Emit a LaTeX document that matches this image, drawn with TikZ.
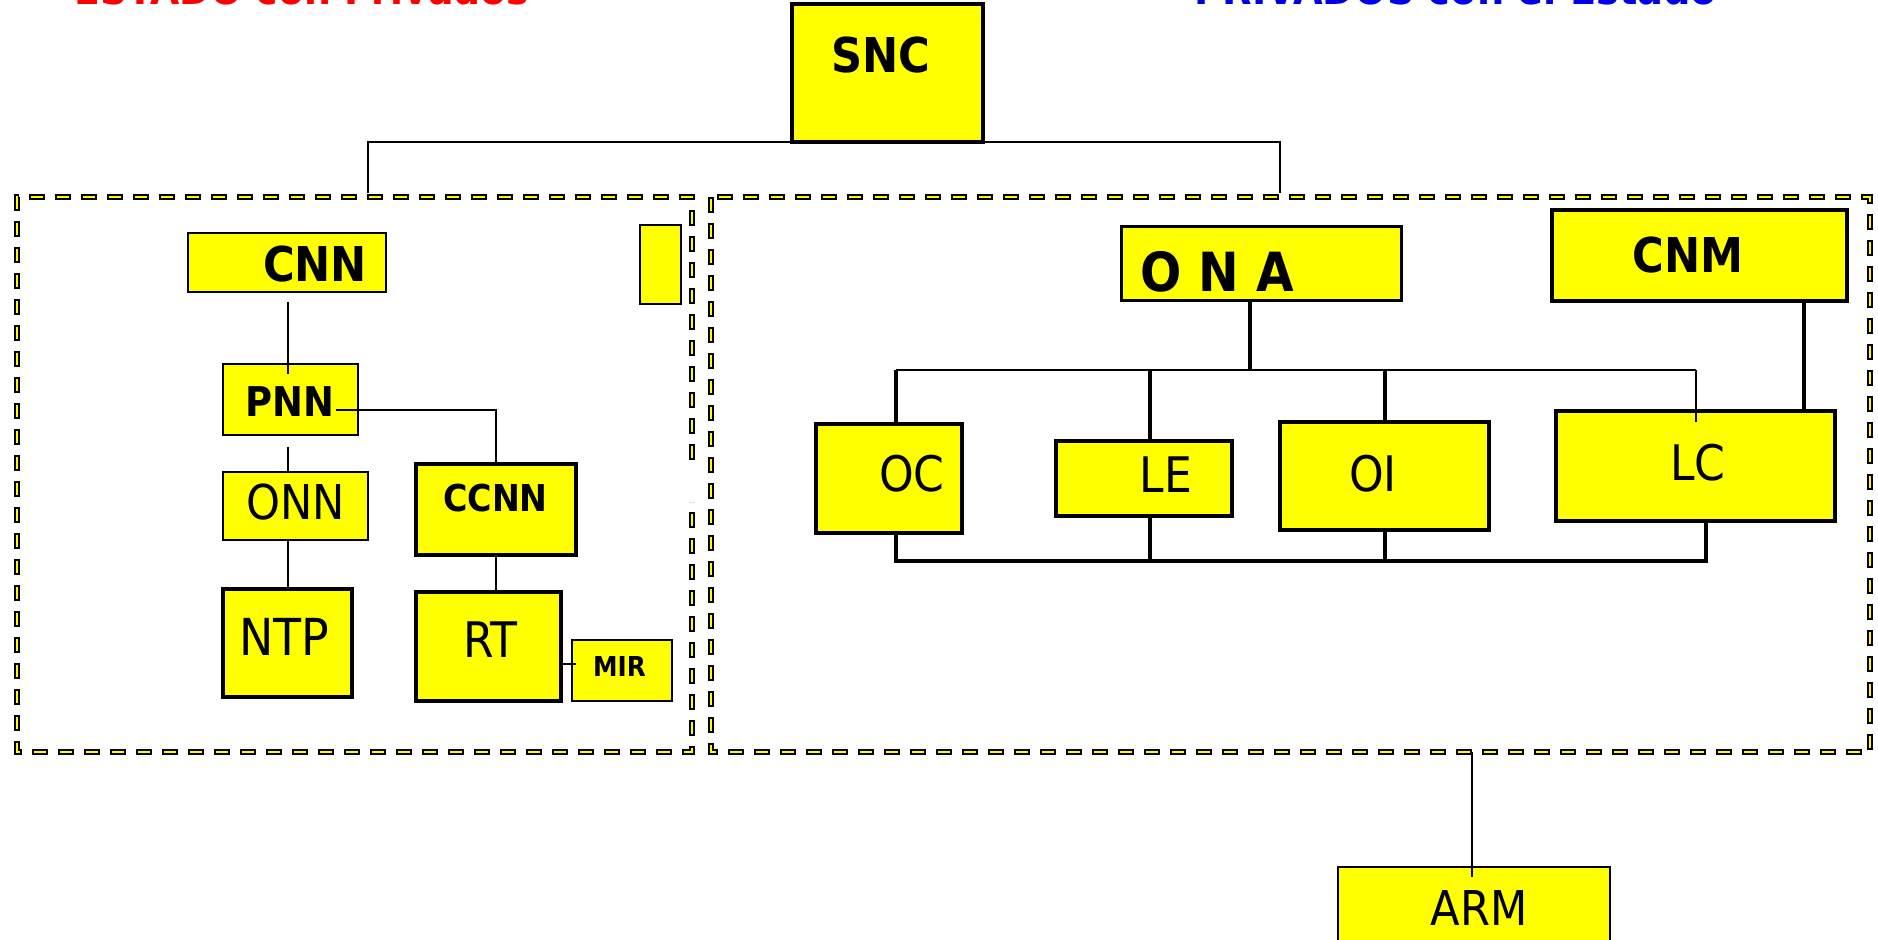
\documentclass[tikz,border=0pt]{standalone}
\usepackage{fontspec}
\setmainfont{DejaVu Sans Condensed}
\usetikzlibrary{calc}
\definecolor{boxyellow}{RGB}{255,255,0}
\definecolor{titlered}{RGB}{255,0,0}
\definecolor{titleblue}{RGB}{0,0,230}
\begin{document}
\begin{tikzpicture}[x=0.5pt,y=-0.5pt,
  sz/.style 2 args={minimum width=#1*0.5pt, minimum height=#2*0.5pt},
  box/.style={draw=black, fill=boxyellow, line width=1pt, inner sep=0pt, outer sep=0pt},
  thickbox/.style={box, line width=2pt},
  lbl/.style={inner sep=0pt, font=\fontsize{#1}{#1}\selectfont},
  lbl/.default=24pt,
  blbl/.style={inner sep=0pt, font=\bfseries\fontsize{#1}{#1}\selectfont},
  blbl/.default=24pt,
  conn/.style={line width=1pt},
  tconn/.style={line width=1.75pt},
  framek/.style={draw=black, line width=3pt, dash pattern=on 8pt off 5pt},
  framey/.style={draw=boxyellow, line width=1.1pt, dash pattern=on 6.2pt off 6.8pt, dash phase=12.1pt},
  title/.style={anchor=base west, inner sep=0pt, font=\bfseries\fontsize{21pt}{24pt}\selectfont}]
\useasboundingbox (0,0) rectangle (1878,940);
\fill[white] (0,0) rectangle (1878,940);

% titles (cut by the top edge, as in the reference)
\node[title, text=titlered] (t1) at (74,5) {ESTADO con Privados};
\node[title, text=titleblue, font=\bfseries\fontsize{21.3pt}{24pt}\selectfont] (t2) at (1194,5) {PRIVADOS con el Estado};

% frames
\coordinate (lfa) at (692,460);
\coordinate (lfb) at (692,502);
\coordinate (rf1) at (711,197);
\coordinate (rf2) at (1870,752);
\foreach \s in {framek,framey}{
  \draw[\s] (lfa) -- (692,197) -- (17,197) -- (17,752) -- (692,752) -- (lfb);
  \draw[\s] (rf1) rectangle (rf2);
}

% boxes
\node[thickbox, sz={191}{138}] (snc) at (887.5,73) {};
\node[box, sz={41}{79}] (blank) at (660.5,264.5) {};
\node[box, sz={198}{59}] (cnn) at (287,262.5) {};
\node[box, sz={135}{71}] (pnn) at (290.5,399.5) {};
\node[box, sz={145}{68}] (onn) at (295.5,506) {};
\node[thickbox, sz={129}{108}] (ntp) at (287.5,643) {};
\node[thickbox, sz={160}{91}] (ccnn) at (496,509.5) {};
\node[thickbox, sz={145}{109}] (rt) at (488.5,646.5) {};
\node[box, sz={100}{61}] (mir) at (622,670.5) {};

\node[box, line width=1.5pt, sz={280}{74}] (ona) at (1261,264) {};
\node[thickbox, sz={295}{91}] (cnm) at (1699.5,255.5) {};
\node[thickbox, sz={146}{109}] (oc) at (889,478.5) {};
\node[thickbox, sz={176}{75}] (le) at (1144,478.5) {};
\node[thickbox, sz={209}{108}] (oi) at (1384.5,476) {};
\node[thickbox, sz={279}{110}] (lc) at (1695.5,466) {};
\node[box, sz={272}{130}] (arm) at (1474,932) {};

% connectors, left
\coordinate (ltop) at (368,193);
\coordinate (rtop) at (1280,193);
\draw[conn] (ltop) |- (snc.south) -| (rtop);
\draw[conn] ($(cnn.south)+(1,10)$) -- ($(pnn.north)+(-2.5,10)$);
\draw[conn] ($(pnn.east)+(-22,10.5)$) -| (ccnn.north);
\draw[conn] ($(pnn.south)+(-2.5,12)$) -- ($(onn.north)+(-7.5,0)$);
\draw[conn] ($(onn.south)+(-7.5,0)$) -- ($(ntp.north)+(0.5,0)$);
\draw[conn] (ccnn.south) -- (ccnn.south |- rt.north);
\draw[conn] ($(rt.east)+(0,17.5)$) -- ($(mir.west)+(4,-6.5)$);

% connectors, right
\coordinate (onaj) at (1250,370);
\coordinate (hl) at (896,370);
\coordinate (hle) at (1150,370);
\coordinate (hoi) at (1385,370);
\coordinate (hr) at (1696,370);
\coordinate (hrin) at (1696,422);
\coordinate (bl) at (896,561);
\coordinate (ble) at (1150,561);
\coordinate (boi) at (1385,561);
\coordinate (br) at (1706,561);
\coordinate (cnmst) at (1804,299);
\coordinate (fb) at (1472,752);
\draw[tconn] (ona.south -| onaj) -- (onaj);
\draw[conn] (hl) -- (hr);
\draw[tconn] (hl) -- (oc.north -| hl);
\draw[tconn] (hle) -- (le.north -| hle);
\draw[tconn] (hoi) -- (oi.north -| hoi);
\draw[conn] (hr) -- (hrin);
\draw[tconn] (cnmst) -- (lc.north -| cnmst);
\draw[line width=2pt] (oc.south -| bl) -- (bl) -- (br) -- (lc.south -| br);
\draw[tconn] (le.south -| ble) -- (ble);
\draw[tconn] (oi.south -| boi) -- (boi);
\draw[conn] (fb) -- ($(arm.north)+(-2,10)$);

% labels
\node[blbl] (snct) at (881,55.5) {SNC};
\node[blbl] (cnnt) at (315,264.5) {CNN};
\node[blbl=20.5pt] (pnnt) at (290,402) {PNN};
\node[lbl] (onnt) at (295.5,502.5) {ONN};
\node[lbl=25.5pt] (ntpt) at (284,636.5) {NTP};
\node[blbl=18.5pt] (ccnnt) at (495.5,498.5) {CCNN};
\node[lbl=24.5pt] (rtt) at (490,640) {RT};
\node[blbl=13.7pt] (mirt) at (619.5,667) {MIR};
\node[blbl=27pt] (onat) at (1217,271.5) {O N A};
\node[blbl] (cnmt) at (1688,255) {CNM};
\node[lbl=24.5pt] (oct) at (912,474) {OC};
\node[lbl=24.5pt] (let) at (1166,475) {LE};
\node[lbl=24.5pt] (oit) at (1373,474) {OI};
\node[lbl=24.5pt] (lct) at (1698,463) {LC};
\node[lbl] (armt) at (1479,907.5) {ARM};
\end{tikzpicture}
\end{document}
